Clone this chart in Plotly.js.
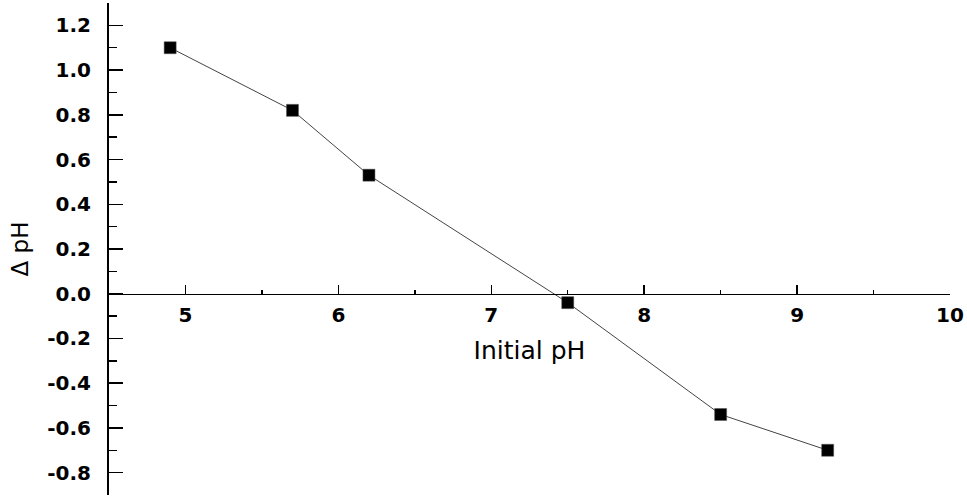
<!DOCTYPE html>
<html>
<head>
<meta charset="utf-8">
<script src="https://cdn.plot.ly/plotly-3.0.1.min.js"></script>
<style>
html,body{margin:0;padding:0;background:#fff;}
#chart{width:967px;height:500px;}
</style>
</head>
<body>
<div id="chart"></div>
<script>
const initialPH = [4.9, 5.7, 6.2, 7.5, 8.5, 9.2];
const deltaPH = [1.10, 0.82, 0.53, -0.04, -0.54, -0.70];

const xTickVals = [5, 6, 7, 8, 9, 10];
const xTickText = ['5', '6', '7', '8', '9', '10'];
const yTickVals = [-0.8, -0.6, -0.4, -0.2, 0.0, 0.2, 0.4, 0.6, 0.8, 1.0, 1.2];
const yTickText = ['-0.8', '-0.6', '-0.4', '-0.2', '0.0', '0.2', '0.4', '0.6', '0.8', '1.0', '1.2'];

const xRange = [4.5, 10];
const yRange = [-0.9, 1.3];

const trace = {
  x: initialPH,
  y: deltaPH,
  type: 'scatter',
  mode: 'lines+markers',
  line: {color: '#444', width: 1},
  marker: {symbol: 'square', size: 12, color: '#000', line: {color: '#555', width: 0.5}},
  showlegend: false
};

const zeroPos = (0 - yRange[0]) / (yRange[1] - yRange[0]);
const tickFont = {size: 20, family: 'DejaVu Sans, sans-serif', weight: 'bold', color: '#000'};

const layout = {
  width: 967,
  height: 500,
  paper_bgcolor: '#fff',
  plot_bgcolor: '#fff',
  margin: {l: 109, r: 17, t: 3, b: 5},
  font: {family: 'DejaVu Sans, sans-serif', color: '#000'},
  xaxis: {
    range: xRange,
    anchor: 'free',
    position: zeroPos,
    showgrid: false,
    zeroline: false,
    showline: true,
    linecolor: '#000',
    linewidth: 1.5,
    ticks: 'inside',
    ticklen: 9,
    tickwidth: 1.5,
    tickcolor: '#000',
    tickvals: xTickVals,
    ticktext: xTickText,
    ticklabelstandoff: 3,
    tickfont: tickFont,
    minor: {dtick: 0.5, tick0: 0, ticks: 'inside', ticklen: 4, tickwidth: 1.5, tickcolor: '#000', showgrid: false},
    title: {text: 'Initial pH', font: {size: 25, family: 'DejaVu Sans, sans-serif', color: '#000'}, standoff: 15}
  },
  yaxis: {
    range: yRange,
    showgrid: false,
    zeroline: false,
    showline: true,
    linecolor: '#000',
    linewidth: 2,
    ticks: 'inside',
    ticklen: 14,
    tickwidth: 1.5,
    tickcolor: '#000',
    tickvals: yTickVals,
    ticktext: yTickText,
    ticklabelstandoff: 12,
    tickfont: tickFont,
    minor: {dtick: 0.1, tick0: 0, ticks: 'inside', ticklen: 8, tickwidth: 1.5, tickcolor: '#000', showgrid: false},
    title: {text: 'Δ pH', font: {size: 23, family: 'DejaVu Sans, sans-serif', color: '#000'}, standoff: 12}
  }
};

Plotly.newPlot('chart', [trace], layout, {displayModeBar: false, staticPlot: true});
</script>
</body>
</html>
